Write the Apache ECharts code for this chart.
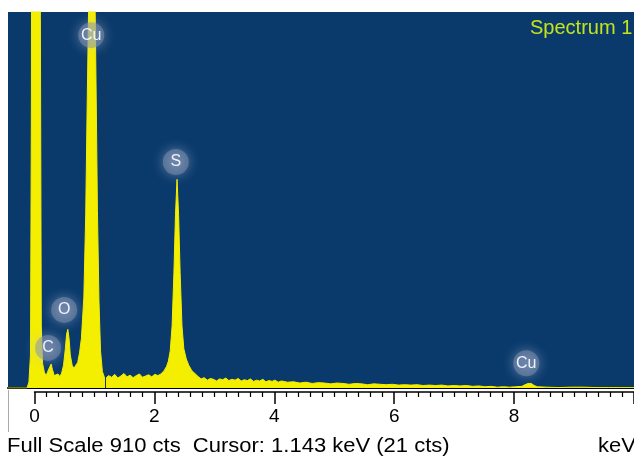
<!DOCTYPE html>
<html><head><meta charset="utf-8">
<script src="https://cdn.jsdelivr.net/npm/echarts@6/dist/echarts.min.js"></script>
<style>html,body{margin:0;padding:0;background:#fff;} #c{width:634px;height:460px;}</style>
</head><body><div id="c"></div>
<script>
// Spectrum data (energy in keV, counts)
const energyKeV = [
  -0.43, -0.12, -0.09, -0.065, -0.05, -0.04, 0.085, 0.095, 0.11, 0.13,
  0.16, 0.19, 0.22, 0.25, 0.27, 0.29, 0.32, 0.35, 0.38, 0.41,
  0.44, 0.47, 0.50, 0.52, 0.54, 0.56, 0.58, 0.61, 0.64, 0.67,
  0.70, 0.73, 0.76, 0.80, 0.83, 0.855, 0.88, 0.90, 0.93, 0.96,
  0.98, 1.00, 1.02, 1.045, 1.07, 1.10, 1.143, 1.20, 1.25, 1.30,
  1.35, 1.40, 1.45, 1.50, 1.55, 1.60, 1.65, 1.70, 1.75, 1.80,
  1.85, 1.90, 1.95, 2.00, 2.05, 2.10, 2.14, 2.17, 2.20, 2.23,
  2.26, 2.285, 2.31, 2.335, 2.36, 2.39, 2.42, 2.46, 2.50, 2.55,
  2.60, 2.65, 2.70, 2.75, 2.80, 2.85, 2.90, 2.95, 3.00, 3.05,
  3.10, 3.15, 3.20, 3.25, 3.30, 3.35, 3.40, 3.45, 3.50, 3.55,
  3.60, 3.65, 3.70, 3.75, 3.80, 3.85, 3.90, 3.95, 4.00, 4.1,
  4.2, 4.3, 4.4, 4.5, 4.6, 4.7, 4.8, 4.9, 5.0, 5.1,
  5.2, 5.3, 5.4, 5.5, 5.6, 5.7, 5.8, 5.9, 6.0, 6.1,
  6.2, 6.3, 6.4, 6.5, 6.6, 6.7, 6.8, 6.9, 7.0, 7.1,
  7.2, 7.3, 7.4, 7.5, 7.6, 7.7, 7.8, 7.9, 7.95, 8.00,
  8.05, 8.10, 8.15, 8.3, 8.5, 8.7, 8.9, 9.1, 9.3, 9.5, 9.72
];
const counts = [
  0, 0, 15, 80, 700, 2600, 2600, 900, 150, 60,
  38, 30, 42, 52, 58, 45, 30, 26, 34, 28,
  36, 55, 95, 130, 142, 120, 80, 55, 48, 52,
  62, 85, 120, 220, 420, 700, 950, 1100, 1160, 1100,
  950, 700, 430, 210, 90, 40, 21, 30, 26, 33,
  24, 29, 35, 27, 31, 25, 30, 34, 26, 29,
  32, 27, 33, 30, 34, 42, 52, 65, 90, 150,
  280, 420, 505, 420, 280, 150, 95, 70, 55, 42,
  35, 28, 22, 25, 19, 23, 21, 17, 22, 20,
  24, 18, 21, 19, 23, 17, 20, 18, 22, 16,
  19, 17, 21, 15, 18, 16, 19, 14, 17, 14,
  15, 12, 14, 11, 13, 12, 10, 12, 11, 9,
  11, 10, 8, 10, 9, 8, 9, 7, 8, 7,
  8, 6, 7, 6, 7, 5, 6, 5, 6, 4,
  5, 3, 4, 2, 3, 2, 3, 4, 8, 11,
  11, 6, 3, 2, 1, 2, 2, 1, 1, 1, 1
];
const fullScaleCts = 910;
const cursorKeV = 1.143;
const peakNames = ['Cu', 'S', 'O', 'C', 'Cu'];
const peakLabelKeV = [0.92, 2.29, 0.48, 0.22, 7.97];
const peakLabelCts = [854, 547, 189, 97, 60];
const footerText = 'Full Scale 910 cts  Cursor: 1.143 keV (21 cts)';
const unitText = 'keV';
const titleText = 'Spectrum 1';

const FONT = 'Liberation Sans, Arial, sans-serif';
const chart = echarts.init(document.getElementById('c'), null, {renderer: 'canvas'});
chart.setOption({
  animation: false,
  backgroundColor: '#ffffff',
  grid: [
    {left: 8, right: 0, top: 12, bottom: 72, show: true, backgroundColor: '#0a3a6c', borderWidth: 0},
    {left: 34.5, right: -17.5, top: 12, bottom: 72, show: false}
  ],
  xAxis: [
    {gridIndex: 0, type: 'value', min: -0.4295, max: 9.716,
     axisLine: {show: true, onZero: false, lineStyle: {color: '#000', width: 2}},
     axisTick: {show: false}, axisLabel: {show: false}, splitLine: {show: false}},
    {gridIndex: 1, type: 'value', min: 0, max: 10, interval: 2, offset: 4,
     axisLine: {show: true, onZero: false, lineStyle: {color: '#000', width: 1.5}},
     axisTick: {show: true, length: 12, lineStyle: {color: '#000', width: 1.5}},
     minorTick: {show: true, splitNumber: 10, length: 5, lineStyle: {color: '#000', width: 1.2}},
     axisLabel: {show: true, color: '#000', fontSize: 19, fontFamily: FONT, margin: 15, showMaxLabel: false},
     splitLine: {show: false}}
  ],
  yAxis: [
    {gridIndex: 0, type: 'value', min: 0, max: fullScaleCts, show: false},
    {gridIndex: 1, type: 'value', min: 0, max: fullScaleCts, show: false}
  ],
  series: [{
    type: 'line',
    xAxisIndex: 0, yAxisIndex: 0,
    data: energyKeV.map((e, i) => [e, counts[i]]),
    symbol: 'none',
    clip: true,
    lineStyle: {color: '#f4ee00', width: 1},
    areaStyle: {color: '#f4ee00', opacity: 1},
    markLine: {
      silent: true, symbol: 'none',
      label: {show: false},
      lineStyle: {color: '#1e3656', width: 1, type: 'solid'},
      data: [{xAxis: cursorKeV}]
    },
    markPoint: {
      silent: true,
      symbol: 'circle', symbolSize: 26,
      itemStyle: {color: 'rgba(130,145,175,0.5)', shadowBlur: 12, shadowColor: 'rgba(190,200,225,0.9)'},
      label: {show: true, position: 'inside', color: '#eef2ff', fontSize: 16, fontFamily: FONT,
              formatter: p => p.name},
      data: peakNames.map((n, i) => ({name: n, coord: [peakLabelKeV[i], peakLabelCts[i]]}))
    }
  }],
  graphic: [
    {type: 'text', x: 530, y: 18, style: {text: titleText, fill: '#c4e41a', fontSize: 20, fontFamily: FONT, verticalAlign: 'top'}},
    {type: 'text', x: 7, y: 436, scaleX: 1.1, style: {text: footerText, fill: '#000', fontSize: 20, fontFamily: FONT, verticalAlign: 'top'}},
    {type: 'text', x: 598, y: 436, scaleX: 1.1, style: {text: unitText, fill: '#000', fontSize: 20, fontFamily: FONT, verticalAlign: 'top'}},
    {type: 'line', shape: {x1: 8.5, y1: 390, x2: 8.5, y2: 432}, style: {stroke: '#aaa', lineWidth: 1}}
  ]
});
</script></body></html>
